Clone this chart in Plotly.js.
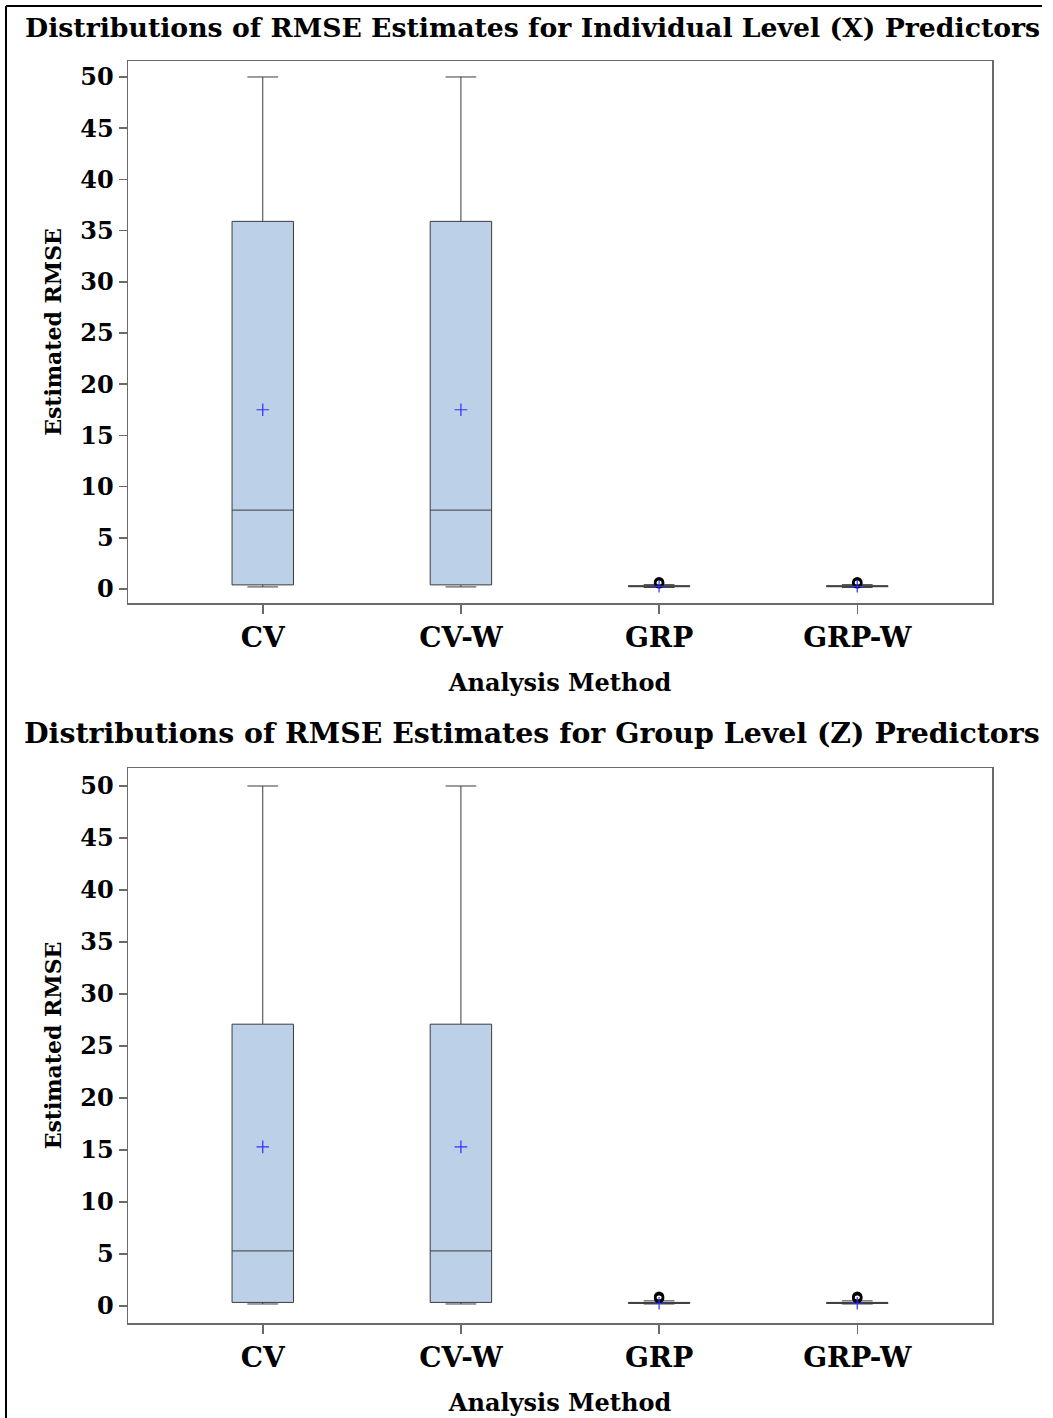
<!DOCTYPE html>
<html>
<head>
<meta charset="utf-8">
<script src="https://cdn.plot.ly/plotly-3.0.1.min.js"></script>
<style>html,body{margin:0;padding:0;background:#fff;}#chart{width:1053px;height:1418px;}</style>
</head>
<body>
<div id="chart"></div>
<script>
// Categories
const methods = ["CV", "CV-W", "GRP", "GRP-W"];

// Individual Level (X) predictors – box statistics
const xMin    = [0.2, 0.2, 0.15, 0.15];
const xQ1     = [0.4, 0.4, 0.22, 0.22];
const xMedian = [7.7, 7.7, 0.27, 0.27];
const xQ3     = [35.9, 35.9, 0.32, 0.32];
const xMax    = [50, 50, 0.42, 0.42];
const xMean   = [17.5, 17.5, 0.26, 0.26];
const xOutCat = ["GRP", "GRP", "GRP-W", "GRP-W"];
const xOutVal = [0.55, 0.65, 0.55, 0.65];

// Group Level (Z) predictors – box statistics
const zMin    = [0.2, 0.2, 0.2, 0.2];
const zQ1     = [0.35, 0.35, 0.25, 0.25];
const zMedian = [5.3, 5.3, 0.3, 0.3];
const zQ3     = [27.1, 27.1, 0.35, 0.35];
const zMax    = [50, 50, 0.5, 0.5];
const zMean   = [15.3, 15.3, 0.27, 0.27];
const zOutCat = ["GRP", "GRP", "GRP-W", "GRP-W"];
const zOutVal = [0.75, 0.9, 0.75, 0.9];

const yTicks = [0, 5, 10, 15, 20, 25, 30, 35, 40, 45, 50];

const FONT = "DejaVu Serif, Liberation Serif, serif";
const boxFill = "#BCD0E8";
const boxLine = "#3c3c3c";

function boxTrace(xa, ya, q1, med, q3, lo, hi) {
  return {
    type: "box", x: methods, q1: q1, median: med, q3: q3,
    lowerfence: lo, upperfence: hi,
    xaxis: xa, yaxis: ya, width: 0.31, whiskerwidth: 0.5,
    fillcolor: boxFill, line: {color: boxLine, width: 1},
    boxpoints: false, showlegend: false, hoverinfo: "skip"
  };
}
function meanTrace(xa, ya, mean) {
  return {
    type: "scatter", mode: "markers", x: methods, y: mean, xaxis: xa, yaxis: ya,
    marker: {symbol: "cross-thin-open", size: 9, color: "#3030ff", line: {color: "#3030ff", width: 1.2}},
    showlegend: false, hoverinfo: "skip"
  };
}
function outTrace(xa, ya, cats, vals) {
  return {
    type: "scatter", mode: "markers", x: cats, y: vals, xaxis: xa, yaxis: ya,
    marker: {symbol: "circle-open", size: 8, color: "#000", line: {color: "#000", width: 2.5}},
    showlegend: false, hoverinfo: "skip"
  };
}

const data = [
  boxTrace("x", "y", xQ1, xMedian, xQ3, xMin, xMax),
  outTrace("x", "y", xOutCat, xOutVal),
  meanTrace("x", "y", xMean),
  boxTrace("x2", "y2", zQ1, zMedian, zQ3, zMin, zMax),
  outTrace("x2", "y2", zOutCat, zOutVal),
  meanTrace("x2", "y2", zMean)
];

const yTickFont = {family: FONT, size: 24, color: "#000", weight: "bold"};
const xTickFont = {family: FONT, size: 28, color: "#000", weight: "bold"};

function xAxis(anchor) {
  return {
    anchor: anchor, type: "category", categoryorder: "array", categoryarray: methods,
    range: [-0.68, 3.68], showline: true, mirror: true, linecolor: "#6a6a6a", linewidth: 1.5,
    ticks: "outside", ticklen: 9, tickcolor: "#6a6a6a", tickwidth: 1.5,
    showgrid: false, zeroline: false, tickfont: xTickFont,
    title: {text: "Analysis Method", font: {family: FONT, size: 24, color: "#000", weight: "bold"}, standoff: 21}
  };
}
function yAxis(anchor, domain, range) {
  return {
    anchor: anchor, domain: domain, range: range,
    tickvals: yTicks, ticktext: yTicks.map(String),
    showline: true, mirror: true, linecolor: "#6a6a6a", linewidth: 1.5,
    ticks: "outside", ticklen: 8, tickcolor: "#6a6a6a", tickwidth: 1.5,
    showgrid: false, zeroline: false, tickfont: yTickFont,
    title: {text: "Estimated RMSE", font: {family: FONT, size: 22, color: "#000", weight: "bold"}, standoff: 12}
  };
}

// plot area: left 128, right 992, top 61, bottom 1323 (height 1262, width 864)
const W = 864, H = 1262, L = 128, T = 61;
function px2x(px) { return (px - L) / W; }
function px2y(py) { return (T + H - py) / H; }

const layout = {
  width: 1053, height: 1418,
  margin: {l: L, r: 1053 - L - W, t: T, b: 1418 - T - H},
  paper_bgcolor: "#fff", plot_bgcolor: "#fff",
  font: {family: FONT, color: "#000"},
  xaxis: xAxis("y"),
  yaxis: yAxis("x", [px2y(603), 1], [-1.37, 51.56]),
  xaxis2: xAxis("y2"),
  yaxis2: yAxis("x2", [0, px2y(768)], [-1.63, 51.73]),
  showlegend: false,
  annotations: [
    {text: "Distributions of RMSE Estimates for Individual Level (X) Predictors",
     xref: "paper", yref: "paper", x: px2x(532), y: px2y(27), xanchor: "center", yanchor: "middle",
     showarrow: false, font: {family: FONT, size: 26.7, color: "#000", weight: "bold"}},
    {text: "Distributions of RMSE Estimates for Group Level (Z) Predictors",
     xref: "paper", yref: "paper", x: px2x(532), y: px2y(733), xanchor: "center", yanchor: "middle",
     showarrow: false, font: {family: FONT, size: 28.4, color: "#000", weight: "bold"}}
  ],
  shapes: [
    {type: "line", xref: "paper", yref: "paper", x0: px2x(6), x1: px2x(1042), y0: px2y(6), y1: px2y(6),
     line: {color: "#000", width: 2}},
    {type: "line", xref: "paper", yref: "paper", x0: px2x(6), x1: px2x(6), y0: px2y(6), y1: px2y(1418),
     line: {color: "#000", width: 2}}
  ]
};

Plotly.newPlot("chart", data, layout, {displayModeBar: false, staticPlot: true});
</script>
</body>
</html>
